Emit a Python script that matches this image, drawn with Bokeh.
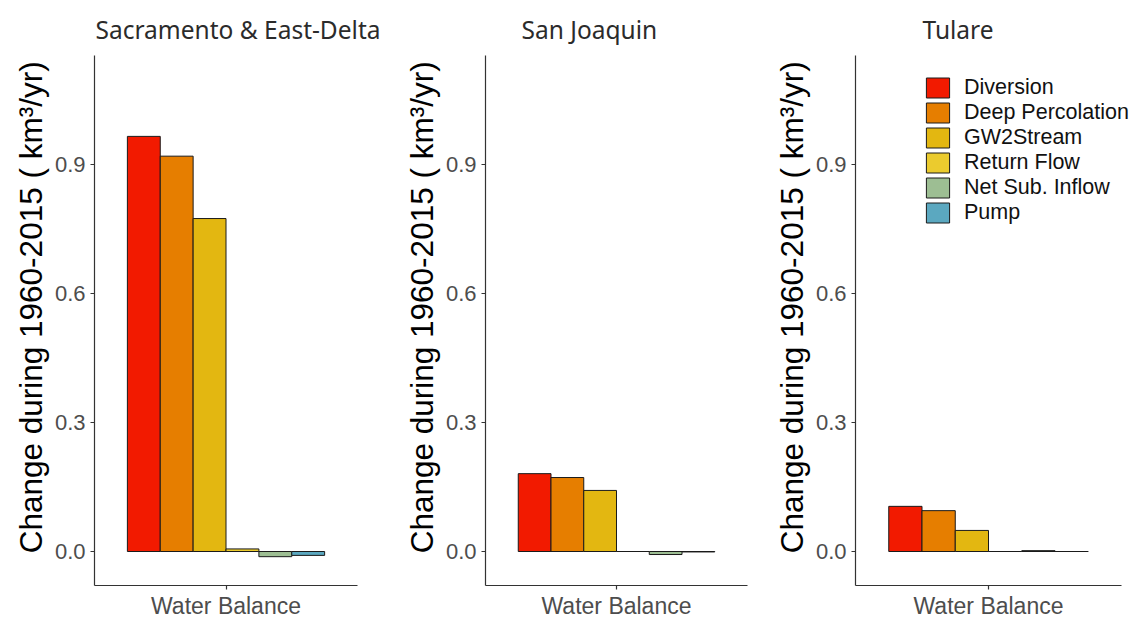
from bokeh.plotting import figure
from bokeh.layouts import row
from bokeh.models import (ColumnDataSource, Range1d, FixedTicker, Legend, LegendItem, Title,
                          NumeralTickFormatter)
from bokeh.transform import dodge
from bokeh.embed import file_html
from bokeh.resources import INLINE

regions = ["Sacramento & East-Delta", "San Joaquin", "Tulare"]
components = ["Diversion", "Deep Percolation", "GW2Stream", "Return Flow", "Net Sub. Inflow", "Pump"]
colors = ["#F21A00", "#E67E00", "#E3B711", "#EBCB2E", "#9DBE93", "#5BA8C0"]
category = "Water Balance"

sac_values = [0.965, 0.919, 0.774, 0.006, -0.012, -0.009]
sj_values = [0.181, 0.172, 0.142, 0.0, -0.007, -0.001]
tul_values = [0.105, 0.095, 0.049, 0.0, 0.002, 0.0]
region_values = [sac_values, sj_values, tul_values]

y_ticks = [0.0, 0.3, 0.6, 0.9]
y_label = "\u00a0\u00a0\u00a0Change during 1960-2015 ( km\u00b3/yr)"

frame_w = [263, 262, 296]
border_l = [94, 85, 81]
border_r = [43, 23, 0]
x_end = [1.6, 1.6, 1.6 + 30 / 221.7]
title_off = [1, 36, 67]
bar_w = 0.15

figs = []
for k, (reg, vals) in enumerate(zip(regions, region_values)):
    p = figure(x_range=Range1d(0.4, x_end[k]),
               y_range=Range1d(-0.079, 1.153),
               frame_width=frame_w[k], frame_height=530,
               min_border_left=border_l[k], min_border_right=border_r[k],
               min_border_top=55, min_border_bottom=10,
               output_backend="svg", toolbar_location=None, title=None)
    p.add_layout(Title(text=reg, text_font="Noto Sans", text_font_size="24.5px",
                       text_font_style="normal", text_color="#2b2b2b", align="left",
                       offset=title_off[k], standoff=20), "above")
    renderers = []
    for i, (comp, v, c) in enumerate(zip(components, vals, colors)):
        src = ColumnDataSource(dict(x=[1.0], top=[v]))
        r = p.vbar(x=dodge("x", (i - 2.5) * bar_w), top="top", bottom=0,
                   width=bar_w, source=src, fill_color=c, line_color="#1a1a1a", line_width=1)
        renderers.append(r)
    p.xgrid.visible = False
    p.ygrid.visible = False
    p.outline_line_color = None
    p.yaxis.ticker = FixedTicker(ticks=y_ticks)
    p.yaxis.formatter = NumeralTickFormatter(format="0.0")
    p.xaxis.ticker = FixedTicker(ticks=[1.0])
    p.xaxis.major_label_overrides = {1: category}
    p.xaxis.bounds = (0.4, 1.6)
    for ax in (p.xaxis[0], p.yaxis[0]):
        ax.axis_line_color = "#333333"
        ax.axis_line_width = 1.2
        ax.major_tick_line_color = "#333333"
        ax.major_tick_line_width = 1.2
        ax.major_tick_out = 4
        ax.major_tick_in = 0
        ax.minor_tick_out = 0
        ax.minor_tick_in = 0
        ax.major_label_text_font = "Liberation Sans"
        ax.major_label_text_font_size = "22px"
        ax.major_label_text_color = "#4d4d4d"
    p.xaxis.major_label_text_font_size = "23px"
    p.xaxis.major_label_standoff = 3
    p.yaxis.major_label_standoff = 5
    p.yaxis.axis_label = y_label
    p.yaxis.axis_label_text_font = "Liberation Sans"
    p.yaxis.axis_label_text_font_size = "31.5px"
    p.yaxis.axis_label_text_font_style = "normal"
    p.yaxis.axis_label_text_color = "#000000"
    p.yaxis.axis_label_standoff = 3
    if k == 2:
        items = [LegendItem(label=comp, renderers=[r]) for comp, r in zip(components, renderers)]
        leg = Legend(items=items, location=(68, 360), glyph_width=29, glyph_height=25,
                     label_height=25, spacing=0, label_standoff=12, padding=0, margin=0,
                     border_line_color=None, background_fill_alpha=0,
                     label_text_font="Liberation Sans", label_text_font_size="21.5px",
                     label_text_color="#111111")
        p.add_layout(leg, "center")
    figs.append(p)

layout = row(*figs, spacing=0)
open("out.html", "w").write(file_html(layout, INLINE))
